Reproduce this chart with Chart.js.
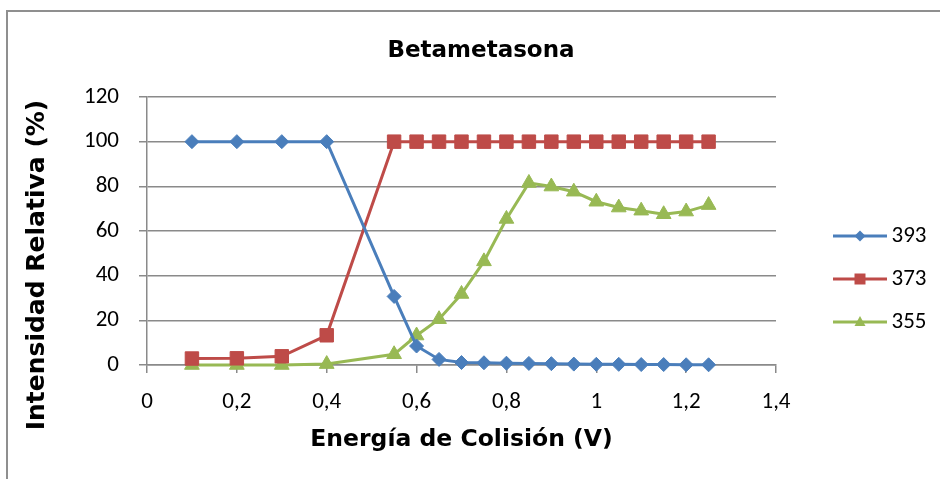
<!DOCTYPE html>
<html>
<head>
<meta charset="utf-8">
<script src="https://cdn.jsdelivr.net/npm/chart.js@4.4.1/dist/chart.umd.min.js"></script>
<style>
  html, body { margin: 0; padding: 0; background: #ffffff; }
  #wrap { position: relative; width: 940px; height: 479px; overflow: hidden; }
  #frame { position: absolute; left: 6px; top: 10px; width: 1000px; height: 1000px;
           border: 2px solid #8f8f8f; box-sizing: border-box; }
  #c { position: absolute; left: 0; top: 0; }
</style>
</head>
<body>
<div id="wrap">
  <div id="frame"></div>
  <canvas id="c" width="940" height="479"></canvas>
</div>
<script>
// Texts
const chartTitle = 'Betametasona';
const xTitle = 'Energía de Colisión (V)';
const yTitle = 'Intensidad Relativa (%)';
const seriesNames = ['393', '373', '355'];

// Collision energy (V)
const energies = [0.1, 0.2, 0.3, 0.4, 0.55, 0.6, 0.65, 0.7, 0.75, 0.8,
                  0.85, 0.9, 0.95, 1.0, 1.05, 1.1, 1.15, 1.2, 1.25];

// Relative intensity (%) of each ion
const ion393 = [100, 100, 100, 100, 30.7, 8.5, 2.5, 1.1, 1.0, 0.8,
                0.7, 0.6, 0.4, 0.3, 0.3, 0.2, 0.2, 0.1, 0.1];
const ion373 = [2.9, 3.0, 3.9, 13.3, 100, 100, 100, 100, 100, 100,
                100, 100, 100, 100, 100, 100, 100, 100, 100];
const ion355 = [0, 0, 0, 0.4, 4.8, 13.2, 20.5, 31.8, 46.4, 65.4,
                81.5, 79.9, 77.6, 73.1, 70.5, 69.1, 67.5, 68.7, 71.6];

// Axis ticks
const xMin = 0, xMax = 1.4, xStep = 0.2;
const yMin = 0, yMax = 120, yStep = 20;

const colors = ['#4a7ebb', '#be4b48', '#98b954'];
const gridColor = '#8a8a8a';
const labelFamily = 'Carlito, Lato, sans-serif';
const titleFamily = '"DejaVu Sans", sans-serif';

function points(values) {
  return energies.map((e, i) => ({ x: e, y: values[i] }));
}

// Legend icon: a short line with the series marker in the middle
function legendIcon(color, shape) {
  const c = document.createElement('canvas');
  c.width = 98; c.height = 24;
  const g = c.getContext('2d');
  g.strokeStyle = color; g.fillStyle = color; g.lineWidth = 3;
  g.beginPath(); g.moveTo(44, 12); g.lineTo(98, 12); g.stroke();
  const cx = 71, cy = 12;
  g.beginPath();
  if (shape === 'diamond') {
    g.moveTo(cx, cy - 5.5); g.lineTo(cx + 5.5, cy); g.lineTo(cx, cy + 5.5); g.lineTo(cx - 5.5, cy);
  } else if (shape === 'square') {
    g.rect(cx - 5.5, cy - 5.5, 11, 11);
  } else {
    g.moveTo(cx, cy - 6); g.lineTo(cx + 5.5, cy + 4); g.lineTo(cx - 5.5, cy + 4);
  }
  g.closePath(); g.fill();
  return c;
}

const fmt = v => (Math.round(v * 10) / 10).toString().replace('.', ',');

const titlesPlugin = {
  id: 'titles',
  afterDraw(chart) {
    const { ctx, chartArea: a } = chart;
    ctx.save();
    ctx.fillStyle = '#000000';
    ctx.textAlign = 'center';
    ctx.textBaseline = 'alphabetic';
    ctx.font = 'bold 23px ' + titleFamily;
    ctx.fillText(chartTitle, 481, 57);
    ctx.font = 'bold 23.5px ' + titleFamily;
    ctx.fillText(xTitle, (a.left + a.right) / 2, 446);
    ctx.font = 'bold 25px ' + titleFamily;
    ctx.translate(44, 265);
    ctx.rotate(-Math.PI / 2);
    ctx.fillText(yTitle, 0, 0);
    ctx.restore();
  }
};

function draw() {
  const legendIcons = [legendIcon(colors[0], 'diamond'), legendIcon(colors[1], 'square'), legendIcon(colors[2], 'triangle')];
  const tickFont = { family: labelFamily, size: 23 };

  new Chart(document.getElementById('c'), {
    type: 'line',
    data: {
      datasets: [
        { label: seriesNames[0], data: points(ion393), borderColor: colors[0], backgroundColor: colors[0],
          pointStyle: 'rectRot', pointRadius: 7, pointBorderWidth: 1 },
        { label: seriesNames[1], data: points(ion373), borderColor: colors[1], backgroundColor: colors[1],
          pointStyle: 'rect', pointRadius: 9.5, pointBorderWidth: 1 },
        { label: seriesNames[2], data: points(ion355), borderColor: colors[2], backgroundColor: colors[2],
          pointStyle: 'triangle', pointRadius: 8.5, pointBorderWidth: 1 }
      ].map(d => Object.assign(d, { borderWidth: 3, tension: 0, clip: false, pointHoverRadius: d.pointRadius }))
    },
    options: {
      responsive: false,
      animation: false,
      devicePixelRatio: 1,
      layout: { padding: { top: 97, left: 0, right: 14, bottom: 18 } },
      scales: {
        x: {
          type: 'linear', min: xMin, max: xMax,
          ticks: { stepSize: xStep, callback: v => fmt(v), font: tickFont, color: '#000', padding: 15, maxRotation: 0 },
          grid: { drawOnChartArea: false, drawTicks: true, tickLength: 8, color: gridColor, lineWidth: 1.5 },
          border: { color: gridColor, width: 1.5 },
          afterFit: s => { s.height = 96; }
        },
        y: {
          min: yMin, max: yMax,
          ticks: { stepSize: yStep, callback: v => fmt(v), font: tickFont, color: '#000', padding: 20 },
          grid: { drawTicks: true, tickLength: 8, color: gridColor, lineWidth: 1.5 },
          border: { color: gridColor, width: 1.5 },
          afterFit: s => { s.width = 147; }
        }
      },
      plugins: {
        title: { display: false },
        tooltip: { enabled: false },
        legend: {
          position: 'right',
          align: 'center',
          maxWidth: 150,
          labels: {
            usePointStyle: true,
            pointStyleWidth: 84,
            padding: 20,
            color: '#000',
            font: { family: labelFamily, size: 23 },
            generateLabels(chart) {
              const items = Chart.defaults.plugins.legend.labels.generateLabels(chart);
              items.forEach((it, i) => { it.pointStyle = legendIcons[i]; it.rotation = 0; });
              return items;
            }
          }
        }
      }
    },
    plugins: [titlesPlugin]
  });
}

Promise.all([
  document.fonts.load('23px Carlito', '0123456789,'),
  document.fonts.load('bold 23px "DejaVu Sans"', chartTitle)
]).catch(() => {}).then(draw);
</script>
</body>
</html>
